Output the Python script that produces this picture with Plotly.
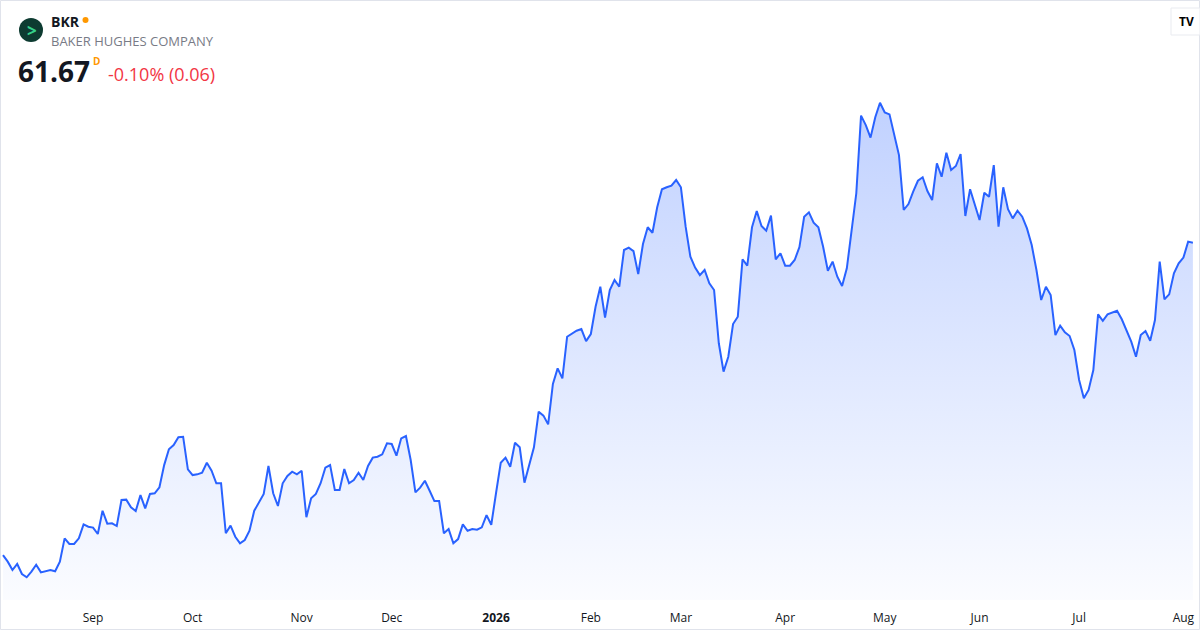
import pandas as pd
import plotly.graph_objects as go

# BKR daily closes, Aug 2025 - Aug 2026
price = [
    44.49, 44.13, 43.67, 44.00, 43.45, 43.27, 43.58, 43.96, 43.54, 43.60,
    43.67, 43.60, 44.13, 45.41, 45.10, 45.10, 45.41, 46.18, 46.05, 46.00,
    45.65, 46.93, 46.22, 46.24, 46.09, 47.52, 47.54, 47.12, 46.91, 47.79,
    47.06, 47.85, 47.89, 48.22, 49.44, 50.31, 50.54, 50.97, 51.00, 49.21,
    48.89, 48.93, 49.02, 49.57, 49.13, 48.44, 48.44, 45.69, 46.11, 45.50,
    45.14, 45.32, 45.83, 46.93, 47.37, 47.85, 49.39, 47.89, 47.19, 48.44,
    48.84, 49.08, 48.93, 49.13, 46.57, 47.61, 47.85, 48.44, 49.30, 49.44,
    48.07, 48.07, 49.22, 48.44, 48.62, 49.02, 48.62, 49.39, 49.85, 49.90,
    50.03, 50.64, 50.60, 49.96, 50.91, 51.04, 49.72, 47.94, 48.20, 48.58,
    48.03, 47.46, 47.46, 45.69, 45.92, 45.14, 45.37, 46.18, 45.83, 45.92,
    45.89, 46.02, 46.69, 46.16, 47.89, 49.57, 49.85, 49.35, 50.67, 50.42,
    48.47, 49.44, 50.42, 52.38, 52.16, 51.68, 53.90, 54.76, 54.21, 56.50,
    56.69, 56.83, 56.92, 56.26, 56.65, 58.15, 59.25, 57.55, 59.07, 59.62,
    59.25, 61.27, 61.40, 61.21, 59.95, 61.60, 62.52, 62.22, 63.62, 64.61,
    64.72, 64.81, 65.12, 64.72, 62.55, 60.90, 60.30, 59.89, 60.17, 59.44,
    59.07, 56.14, 54.58, 55.40, 57.20, 57.60, 60.76, 60.41, 62.52, 63.41,
    62.59, 62.33, 63.16, 60.76, 61.09, 60.41, 60.41, 60.72, 61.43, 63.10,
    63.34, 62.77, 62.52, 61.45, 60.13, 60.63, 59.80, 59.29, 60.26, 62.37,
    64.39, 68.66, 68.14, 67.45, 68.57, 69.37, 68.84, 68.73, 67.59, 66.49,
    63.47, 63.80, 64.48, 65.08, 65.27, 64.51, 64.02, 66.04, 65.30, 66.62,
    65.67, 65.89, 66.55, 63.14, 64.61, 63.80, 62.92, 64.42, 64.20, 65.94,
    62.55, 64.72, 63.51, 63.01, 63.43, 63.10, 62.46, 61.54, 60.17, 58.52,
    59.25, 58.79, 56.59, 57.11, 56.74, 56.54, 55.77, 54.12, 53.11, 53.57,
    54.67, 57.73, 57.38, 57.73, 57.82, 57.93, 57.46, 56.87, 56.23, 55.40,
    56.59, 56.81, 56.28, 57.42, 60.63, 58.56, 58.83, 59.99, 60.54, 60.85,
    61.73, 61.67,
]

# NYSE holidays in the window, so bars line up with trading days
holidays = [
    "2025-09-01", "2025-11-27", "2025-12-25", "2026-01-01", "2026-01-19",
    "2026-02-16", "2026-04-03", "2026-05-25", "2026-06-19", "2026-07-03",
]
dates = pd.bdate_range("2025-08-05", periods=len(price), freq="C", holidays=holidays)
idx = list(range(len(price)))

# month ticks at first trading day, year shown in bold for January
tick_idx, tick_txt = [], []
for i in range(1, len(dates)):
    if dates[i].month != dates[i - 1].month:
        tick_idx.append(i)
        if dates[i].month == 1:
            tick_txt.append("<b>%d</b>" % dates[i].year)
        else:
            tick_txt.append(dates[i].strftime("%b"))

y_lo, y_hi = 42.02, 75.02
blue = "#2962ff"

fig = go.Figure()
fig.add_trace(go.Scatter(
    x=idx, y=price, mode="lines",
    line=dict(color=blue, width=2),
    fill="tozeroy",
    fillgradient=dict(
        type="vertical",
        colorscale=[[0, "rgba(41,98,255,0.02)"], [1, "rgba(41,98,255,0.29)"]],
        start=y_lo, stop=max(price),
    ),
    hoverinfo="skip",
))

fig.update_layout(
    width=1200, height=630,
    margin=dict(l=0, r=0, t=0, b=30),
    paper_bgcolor="white", plot_bgcolor="white",
    showlegend=False,
    font=dict(family="Open Sans, Noto Sans, sans-serif", color="#131722"),
    xaxis=dict(
        range=[-0.63, 252.5], showgrid=False, zeroline=False, showline=False,
        tickvals=tick_idx, ticktext=tick_txt, ticks="",
        tickfont=dict(size=12, color="#131722"), ticklabelstandoff=9,
    ),
    yaxis=dict(range=[y_lo, y_hi], visible=False, showgrid=False),
)


def py(p):
    # pixel row -> paper coordinate of the plot area (600 px tall)
    return (600 - p) / 600


# card border
fig.add_shape(type="rect", xref="paper", yref="paper",
              x0=0.0004, x1=0.9996, y0=py(629.5), y1=py(0.5),
              line=dict(color="#e0e3eb", width=1), layer="above")

# logo
fig.add_shape(type="circle", xref="paper", yref="paper",
              x0=19 / 1200, x1=43 / 1200, y0=py(42), y1=py(18),
              fillcolor="#0d3b31", line=dict(width=0))
fig.add_annotation(x=31.5 / 1200, y=py(30), xref="paper", yref="paper",
                   text="<b>&gt;</b>", showarrow=False,
                   font=dict(size=17, color="#35d08a"), xanchor="center", yanchor="middle")

# orange status dot
fig.add_shape(type="circle", xref="paper", yref="paper",
              x0=82.5 / 1200, x1=88.5 / 1200, y0=py(23), y1=py(17),
              fillcolor="#ff9800", line=dict(width=0))

header = [
    (49, 21, "<b>BKR</b>", 14, "#131722"),
    (49, 41, "BAKER HUGHES COMPANY", 13, "#787b86"),
    (16, 71, "<b>61.67</b>", 28, "#131722"),
    (91, 61, "<b>D</b>", 10, "#ff9800"),
    (106, 74, "-0.10% (0.06)", 18, "#f23645"),
]
for x, y, txt, size, col in header:
    fig.add_annotation(x=x / 1200, y=py(y), xref="paper", yref="paper",
                       text=txt, showarrow=False, xanchor="left", yanchor="middle",
                       font=dict(size=size, color=col))

# TradingView badge: soft pill at the top-right edge
fig.add_shape(type="rect", xref="paper", yref="paper",
              x0=1171 / 1200, x1=1.0, y0=py(35), y1=py(8),
              fillcolor="white", line=dict(color="#e9ebf0", width=1))
fig.add_annotation(x=1186 / 1200, y=py(21), xref="paper", yref="paper",
                   text="<b>TV</b>", showarrow=False, xanchor="center", yanchor="middle",
                   font=dict(size=12, color="#000000"))

# drop the page's default body margin so the chart fills the window
fig.write_html("out.html", config={"displayModeBar": False},
               post_script="document.body.style.margin='0';")
